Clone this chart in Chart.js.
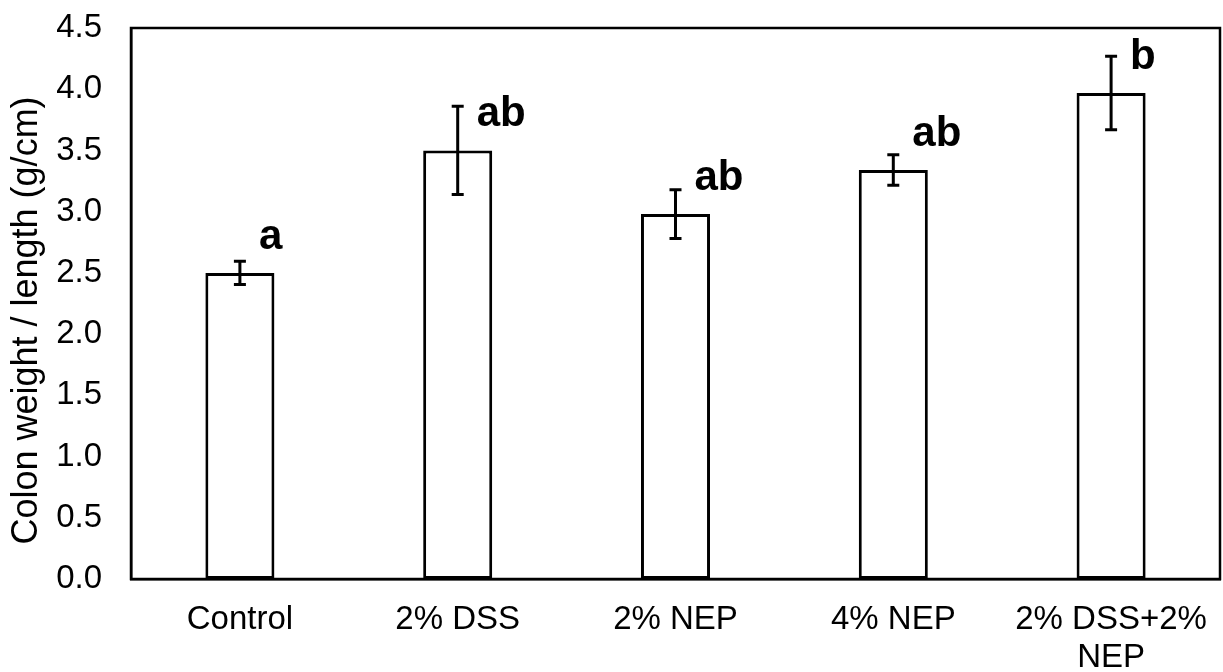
<!DOCTYPE html>
<html>
<head>
<meta charset="utf-8">
<title>Colon weight / length</title>
<script src="https://cdn.jsdelivr.net/npm/chart.js@4/dist/chart.umd.min.js"></script>
<style>
  html, body { margin: 0; padding: 0; background: #fff; }
  #wrap { width: 1223px; height: 672px; }
</style>
</head>
<body>
<div id="wrap"><canvas id="chart" width="1223" height="672"></canvas></div>
<script>
// data
const categories = ['Control', '2% DSS', '2% NEP', '4% NEP', ['2% DSS+2%', 'NEP']];
const means = [2.50, 3.50, 2.98, 3.34, 3.97];
const errors = [0.095, 0.36, 0.20, 0.125, 0.30];
const letters = ['a', 'ab', 'ab', 'ab', 'b'];
const yTicks = [0, 0.5, 1, 1.5, 2, 2.5, 3, 3.5, 4, 4.5];
const yTitle = 'Colon weight / length (g/cm)';

const FONT = '"Liberation Sans", Arial, sans-serif';

// frame round the plot area (top + right too)
const frame = {
  id: 'frame',
  afterDatasetsDraw(chart){
    const { ctx, chartArea: a } = chart;
    ctx.save();
    ctx.strokeStyle = '#000';
    ctx.lineWidth = 2.5;
    ctx.strokeRect(a.left, a.top, a.right - a.left, a.bottom - a.top);
    ctx.restore();
  }
};

// error bars, significance letters and the y title
const extras = {
  id: 'extras',
  afterDatasetsDraw(chart){
    const { ctx, chartArea: a } = chart;
    const x = chart.scales.x, y = chart.scales.y;
    ctx.save();
    ctx.strokeStyle = '#000';
    ctx.fillStyle = '#000';
    ctx.lineWidth = 3;
    means.forEach((m, i) => {
      const cx = x.getPixelForValue(i);
      const hi = y.getPixelForValue(m + errors[i]);
      const lo = y.getPixelForValue(m - errors[i]);
      ctx.beginPath();
      ctx.moveTo(cx, hi); ctx.lineTo(cx, lo);
      ctx.moveTo(cx - 6, hi); ctx.lineTo(cx + 6, hi);
      ctx.moveTo(cx - 6, lo); ctx.lineTo(cx + 6, lo);
      ctx.stroke();

      ctx.font = 'bold 42px ' + FONT;
      ctx.textAlign = 'left';
      ctx.textBaseline = 'alphabetic';
      ctx.fillText(letters[i], cx + 19, y.getPixelForValue(m) - 24);
    });

    // rotated axis title, sits a little below the plot centre like the original
    ctx.translate(37, (a.top + a.bottom) / 2 + 17);
    ctx.rotate(-Math.PI / 2);
    ctx.font = '36px ' + FONT;
    ctx.textAlign = 'center';
    ctx.textBaseline = 'alphabetic';
    ctx.fillText(yTitle, 0, 0);
    ctx.restore();
  }
};

new Chart(document.getElementById('chart'), {
  type: 'bar',
  data: {
    labels: categories,
    datasets: [{
      data: means,
      backgroundColor: '#fff',
      borderColor: '#000',
      borderWidth: 3,
      borderSkipped: false,
      barPercentage: 0.317,
      categoryPercentage: 1
    }]
  },
  options: {
    responsive: false,
    animation: false,
    layout: { padding: { top: 28, right: 3, left: 6, bottom: 0 } },
    plugins: {
      legend: { display: false },
      tooltip: { enabled: false }
    },
    scales: {
      x: {
        grid: { display: false, drawTicks: false },
        border: { color: '#000', width: 2.5 },
        ticks: {
          color: '#000',
          font: { family: FONT, size: 33, lineHeight: 1.15 },
          padding: 22,
          maxRotation: 0,
          autoSkip: false
        },
        afterFit: (s) => { s.height = 93; s.paddingLeft = 0; s.paddingRight = 0; }
      },
      y: {
        min: 0,
        max: 4.5,
        afterBuildTicks: (axis) => { axis.ticks = yTicks.map(v => ({ value: v })); },
        afterFit: (s) => { s.width = 125; s.paddingTop = 0; s.paddingBottom = 0; },
        grid: { display: false, drawTicks: false },
        border: { color: '#000', width: 2.5 },
        ticks: {
          color: '#000',
          font: { family: FONT, size: 33 },
          padding: 29,
          callback: (v) => Number(v).toFixed(1)
        }
      }
    }
  },
  plugins: [frame, extras]
});
</script>
</body>
</html>
